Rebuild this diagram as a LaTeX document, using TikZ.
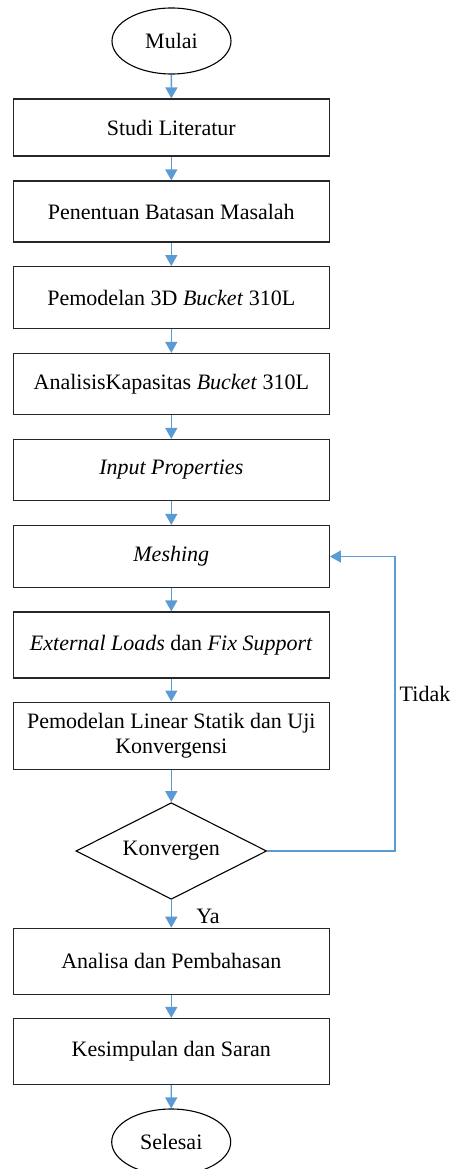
\documentclass[tikz,border=0pt]{standalone}
\usepackage{fontspec}
\setmainfont{Liberation Serif}
\usetikzlibrary{shapes.geometric,arrows.meta}
\definecolor{flowblue}{HTML}{5B9BD5}
\begin{document}
\begin{tikzpicture}[x=1pt,y=-1pt,
  every node/.style={font=\fontsize{22}{25}\selectfont},
  procbox/.style={draw=black!85,line width=1.2pt,minimum width=316pt,inner sep=0pt,align=center},
  terminal/.style={draw=black,line width=1.1pt,ellipse,minimum width=119pt,minimum height=66pt,inner sep=0pt},
  decision/.style={draw=black,line width=1.1pt,diamond,aspect=1.97,minimum width=190.7pt,minimum height=96.6pt,inner sep=0pt},
  flow/.style={draw=flowblue,line width=1.4pt,-{Triangle[width=12pt,length=11pt]}},
  lbl/.style={inner sep=0pt}]
\useasboundingbox (0,0) rectangle (453,1169);
\node[terminal] (start) at (171.5,41) {Mulai};
\node[procbox,minimum height=57pt] (studi) at (171.3,127.5) {Studi Literatur};
\node[procbox,minimum height=61pt] (batas) at (171.3,211.5) {Penentuan Batasan Masalah};
\node[procbox,minimum height=62pt] (model) at (171.3,297.7) {Pemodelan 3D \textit{Bucket} 310L};
\node[procbox,minimum height=61pt] (kapas) at (171.3,384) {AnalisisKapasitas \textit{Bucket} 310L};
\node[procbox,minimum height=61pt] (input) at (171.3,470) {\textit{Input Properties}};
\node[procbox,minimum height=62pt] (mesh) at (171.3,556.5) {\textit{Meshing}};
\node[procbox,minimum height=66pt] (load) at (171.3,645) {\textit{External Loads} dan \textit{Fix Support}};
\node[procbox,minimum height=67pt] (linear) at (171.3,735.6) {Pemodelan Linear Statik dan Uji\\Konvergensi};
\node[decision] (konv) at (171.3,851) {Konvergen};
\node[procbox,minimum height=66pt] (analisa) at (171.3,961.3) {Analisa dan Pembahasan};
\node[procbox,minimum height=66pt] (simpul) at (171.3,1051.5) {Kesimpulan dan Saran};
\node[terminal] (end) at (171.2,1142) {Selesai};
\coordinate (loopb) at (395,851);
\coordinate (loopt) at (395,556.5);
\node[lbl] (tidak) at (425,694) {Tidak};
\node[lbl] (ya) at (208,916) {Ya};
\draw[flow] (start) -- (studi);
\draw[flow] (studi) -- (batas);
\draw[flow] (batas) -- (model);
\draw[flow] (model) -- (kapas);
\draw[flow] (kapas) -- (input);
\draw[flow] (input) -- (mesh);
\draw[flow] (mesh) -- (load);
\draw[flow] (load) -- (linear);
\draw[flow] (linear) -- (konv);
\draw[flow] (konv) -- (analisa);
\draw[flow] (analisa) -- (simpul);
\draw[flow] (simpul) -- (end);
\draw[flow] (konv.east) -- (loopb) -- (loopt) -- (mesh.east);
\end{tikzpicture}
\end{document}
